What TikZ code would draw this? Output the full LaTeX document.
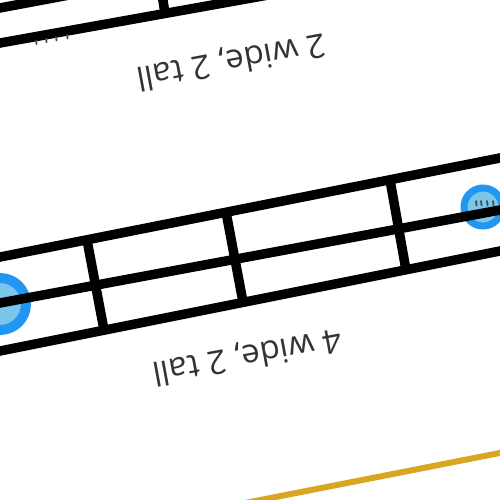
\documentclass[tikz,border=0pt]{standalone}
\usepackage{fontspec}
\setmainfont{Open Sans}
\begin{document}
\begin{tikzpicture}[x=1pt,y=-1pt,
  gridline/.style={line width=9.5pt, black},
  handle/.style={draw=handleblue, fill=handlefill},
  speck/.style={line width=1.8pt, gray!60!black, line cap=round},
  caption/.style={text=captiongray, font=\fontsize{33}{36}\selectfont, rotate=190.5, inner sep=0pt}]
\definecolor{handleblue}{HTML}{2196F3}
\definecolor{handlefill}{HTML}{7CC6EA}
\definecolor{captiongray}{HTML}{333333}
\definecolor{goldline}{HTML}{DAA520}
\useasboundingbox (0,0) rectangle (500,500);
\clip (0,0) rectangle (500,500);
% upper grid (2 wide, 2 tall)
\coordinate (ub1) at (-20,46.6);
\coordinate (ub2) at (300,-10.7);
\coordinate (um1) at (-20,11.7);
\coordinate (um2) at (80,-7);
\coordinate (ud1) at (165,13.5);
\coordinate (ud2) at (162,-6);
\draw[gridline] (ub1) -- (ub2);
\draw[gridline] (um1) -- (um2);
\draw[gridline] (ud1) -- (ud2);
\foreach \x in {36,46,56,67}{
  \draw[speck] (\x,47-0.179*\x) -- ++(0.6,3.5);
}
% lower grid (4 wide, 2 tall)
\coordinate (lt1) at (-20,261);
\coordinate (lt2) at (520,154);
\coordinate (lm1) at (-20,306.7);
\coordinate (lm2) at (520,206.3);
\coordinate (lb1) at (-20,355);
\coordinate (lb2) at (520,247);
\coordinate (d1a) at (87,240);  \coordinate (d1b) at (104,330);
\coordinate (d2a) at (226,212); \coordinate (d2b) at (243,302);
\coordinate (d3a) at (390,180); \coordinate (d3b) at (406,270);
% handles
\node[handle, circle, line width=10pt, minimum size=52pt, inner sep=0pt] (hl) at (0,304) {};
\node[handle, circle, line width=7pt, minimum size=38pt, inner sep=0pt] (hr) at (483,207) {};
\foreach \x in {476,481,487,493}{
  \draw[speck] (\x,201) -- ++(0.6,4.5);
}
\draw[gridline] (lt1) -- (lt2);
\draw[gridline] (lm1) -- (lm2);
\draw[gridline] (lb1) -- (lb2);
\draw[gridline] (d1a) -- (d1b);
\draw[gridline] (d2a) -- (d2b);
\draw[gridline] (d3a) -- (d3b);
% captions
\node[caption] (c1) at (231,61) {2 wide, 2 tall};
\node[caption] (c2) at (247,356) {4 wide, 2 tall};
% gold line
\coordinate (g1) at (240,504);
\coordinate (g2) at (520,449);
\draw[line width=6pt, goldline] (g1) -- (g2);
\end{tikzpicture}
\end{document}
